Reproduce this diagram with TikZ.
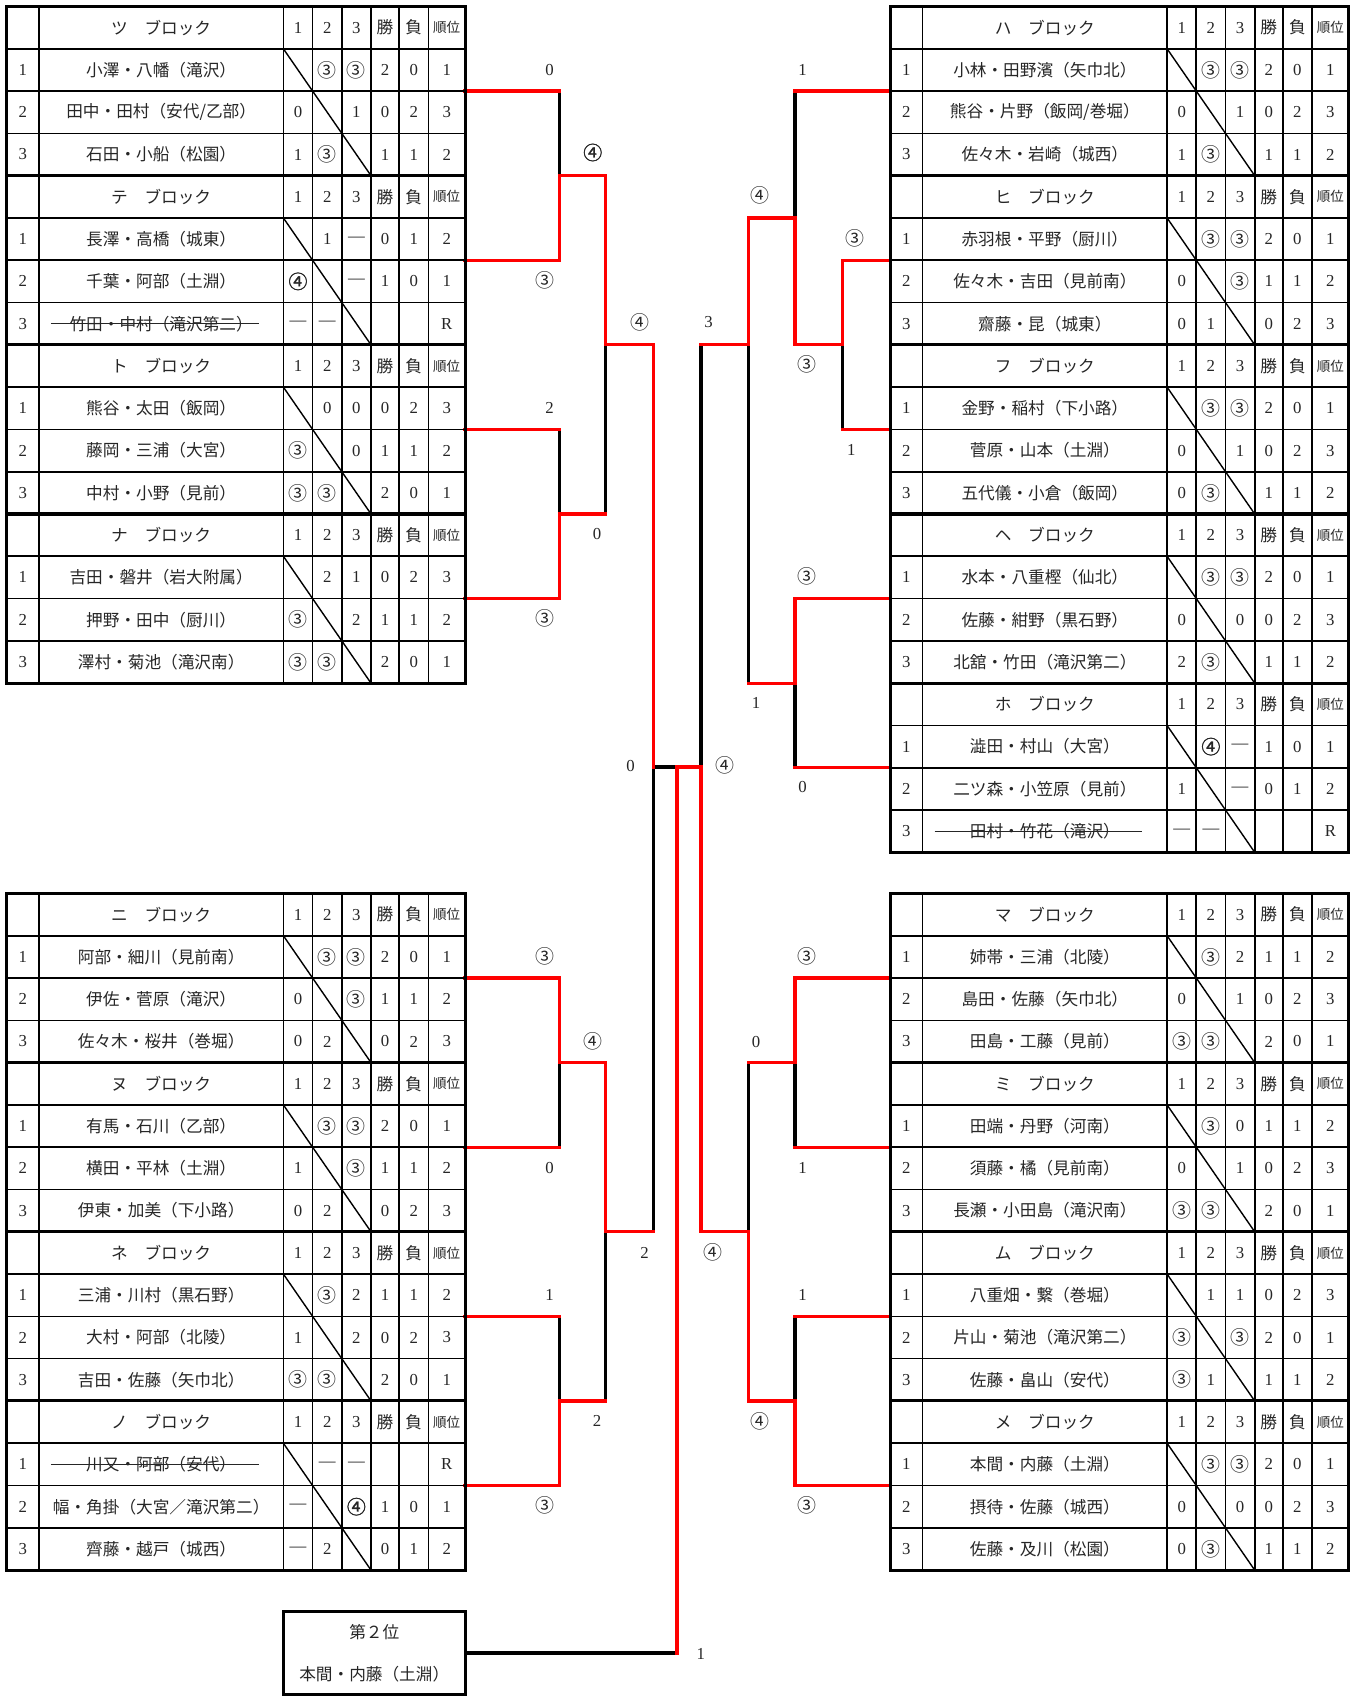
\documentclass[tikz,border=0pt]{standalone}
\usepackage{fontspec}
\setmainfont{Liberation Serif}
\newfontfamily\jp{Noto Sans CJK JP}
\newfontfamily\jpb[FakeBold=1.6]{Noto Sans CJK JP}
\usetikzlibrary{calc}
\newcount\nid
\newcommand\cThree{{\jp\fontsize{17.5}{18}\selectfont ③}}
\newcommand\cFour{{\jp\fontsize{17.5}{18}\selectfont ④}}
\newcommand\cFourB{{\jpb\fontsize{17.5}{18}\selectfont ④}}
\newcommand\cDash{—}
\newcommand\setcols[1]{%
 \pgfmathsetmacro\XA{#1}\pgfmathsetmacro\XB{#1+30}\pgfmathsetmacro\XC{#1+256}%
 \pgfmathsetmacro\XD{#1+283}\pgfmathsetmacro\XE{#1+310}\pgfmathsetmacro\XF{#1+337}%
 \pgfmathsetmacro\XG{#1+363}\pgfmathsetmacro\XH{#1+390}\pgfmathsetmacro\XI{#1+424}%
 \pgfmathsetmacro\KA{#1+15}\pgfmathsetmacro\KB{#1+143}\pgfmathsetmacro\KC{#1+269.5}%
 \pgfmathsetmacro\KD{#1+296.5}\pgfmathsetmacro\KE{#1+323.5}\pgfmathsetmacro\KF{#1+350}%
 \pgfmathsetmacro\KG{#1+376.5}\pgfmathsetmacro\KH{#1+407}}
\newcommand\prow[9]{%
 \global\advance\nid by 1
 \pgfmathsetmacro\myyt{\YT+#1*39.1}%
 \pgfmathsetmacro\myyc{\myyt+19.55}%
 \node[cell] (c\the\nid-0) at (\KA,\myyc) {#2};
 \node[jcell] (c\the\nid-n) at (\KB,\myyc) {#3};
 \node[cell] (c\the\nid-1) at (\KC,\myyc) {#4};
 \node[cell] (c\the\nid-2) at (\KD,\myyc) {#5};
 \node[cell] (c\the\nid-3) at (\KE,\myyc) {#6};
 \node[cell] (c\the\nid-w) at (\KF,\myyc) {#7};
 \node[cell] (c\the\nid-l) at (\KG,\myyc) {#8};
 \node[cell] (c\the\nid-r) at (\KH,\myyc) {#9};
 \pgfmathsetmacro\mydx{\XC+27*(#2-1)}%
 \draw[diag] (\mydx,\myyt) -- (\mydx+27,\myyt+39.1);
}
\newcommand\phead[2]{%
 \global\advance\nid by 1
 \pgfmathsetmacro\myyc{\YT+#1*39.1+19.55}%
 \node[jcell] (h\the\nid-n) at (\KB,\myyc) {#2　ブロック};
 \node[cell] (h\the\nid-1) at (\KC,\myyc) {1};
 \node[cell] (h\the\nid-2) at (\KD,\myyc) {2};
 \node[cell] (h\the\nid-3) at (\KE,\myyc) {3};
 \node[jcell] (h\the\nid-w) at (\KF,\myyc) {勝};
 \node[jcell] (h\the\nid-l) at (\KG,\myyc) {負};
 \node[jsmall] (h\the\nid-r) at (\KH,\myyc) {順位};
}
\newcommand\grid[2]{%
 \pgfmathsetmacro\YE{\YT+#1*39.1}%
 \pgfmathtruncatemacro\nlast{#1-1}%
 \foreach \k in {1,...,\nlast} \draw[tblthin] (\XA,\YT+\k*39.1) -- (\XI,\YT+\k*39.1);
 \foreach \x in {\XB,\XC,\XD,\XE,\XF,\XG,\XH} \draw[tblthin] (\x,\YT) -- (\x,\YE);
 \foreach \k in {#2} \draw[tbl] (\XA,\YT+\k*39.1) -- (\XI,\YT+\k*39.1);
 \draw[tbl] (\XA,\YT) rectangle (\XI,\YE);
}
\newcommand\strk[1]{%
 \pgfmathsetmacro\myys{\YT+#1*39.1+19.55}%
 \draw[strline] (\KB-102,\myys) -- (\KB+90,\myys);
}
\begin{document}
\begin{tikzpicture}[x=1pt,y=-1pt,
 cell/.style={inner sep=0pt, font=\fontsize{15.5}{17}\selectfont, text=black!85},
 jcell/.style={inner sep=0pt, font=\jp\fontsize{15.4}{18}\selectfont, text=black!85},
 jsmall/.style={inner sep=0pt, font=\jp\fontsize{12.5}{14}\selectfont, text=black!85},
 lab/.style={inner sep=0pt, font=\fontsize{15.5}{17}\selectfont, text=black!85},
 tbl/.style={line width=2.8pt, black},
 tblthin/.style={line width=1.5pt, black},
 diag/.style={line width=1.3pt, black},
 strline/.style={line width=1.2pt, black!85},
 lose/.style={line width=3pt, black, line cap=rect, line join=miter},
 win/.style={line width=3pt, red, line cap=rect, line join=miter},
 secbox/.style={draw, line width=2.8pt, minimum width=168pt, minimum height=76.5pt, inner sep=0pt}]
\useasboundingbox (0,0) rectangle (1256,1568);
\fill[white] (0,0) rectangle (1256,1568);

% attachment points and junctions
\coordinate (aTsu) at (430,84.2);
\coordinate (aTe) at (430,240.6);
\coordinate (aTo) at (430,397);
\coordinate (aNa) at (430,553.4);
\coordinate (aNi) at (430,904.2);
\coordinate (aNu) at (430,1060.6);
\coordinate (aNe) at (430,1217);
\coordinate (aNo) at (430,1373.4);
\coordinate (aHa) at (823,84.2);
\coordinate (aHi) at (823,240.6);
\coordinate (aFu) at (823,397);
\coordinate (aHe) at (823,553.4);
\coordinate (aHo) at (823,709.8);
\coordinate (aMa) at (823,904.2);
\coordinate (aMi) at (823,1060.6);
\coordinate (aMu) at (823,1217);
\coordinate (aMe) at (823,1373.4);
\coordinate (jTT) at (517,162.4);
\coordinate (jTN) at (517,475.2);
\coordinate (jL1) at (560,318.8);
\coordinate (jNN) at (517,982.4);
\coordinate (jNN2) at (517,1295.2);
\coordinate (jL2) at (560,1138.8);
\coordinate (cL) at (604,709);
\coordinate (jF) at (626,709);
\coordinate (cR) at (648,709);
\coordinate (jHF) at (779,318.8);
\coordinate (jHa) at (735,201.5);
\coordinate (jHH) at (735,631.6);
\coordinate (jR1) at (692,318.8);
\coordinate (jMM) at (735,982.4);
\coordinate (jMM2) at (735,1295.2);
\coordinate (jR2) at (692,1138.8);

\node[secbox] (second) at (346,1528.25) {};
\node[jcell] (secT) at (346,1509) {第２位};
\node[jcell] (secN) at (346,1548) {本間・内藤（土淵）};

% losing (black) branches
\draw[lose] (aTsu -| jTT) -- (jTT);
\draw[lose] (aTo -| jTN) -- (jTN);
\draw[lose] (jTN -| jL1) -- (jL1);
\draw[lose] (aNu -| jNN) -- (jNN);
\draw[lose] (aNe -| jNN2) -- (jNN2);
\draw[lose] (jNN2 -| jL2) -- (jL2);
\draw[lose] (jL2 -| cL) -- (cL) -- (jF);
\draw[lose] (jR1 -| cR) -- (cR);
\draw[lose] (jHa |- aHa) -- (jHa);
\draw[lose] (jHF |- aFu) -- (jHF);
\draw[lose] (jR1) -- (jR1 |- jHH);
\draw[lose] (jHH) -- (jHH |- aHo);
\draw[lose] (jMM) -- (jMM |- aMi);
\draw[lose] (jMM2 |- aMu) -- (jMM2);
\draw[lose] (jR2 |- jMM) -- (jR2);
\draw[lose] (second.east) -- (second.east -| jF);

% winning (red) branches
\draw[win] (aTsu) -- (aTsu -| jTT);
\draw[win] (aTe) -| (jTT) -- (jTT -| jL1) -- (jL1) -- (jL1 -| cL) -- (cL);
\draw[win] (aTo) -- (aTo -| jTN);
\draw[win] (aNa) -| (jTN) -- (jTN -| jL1);
\draw[win] (aNi) -| (jNN) -- (jNN -| jL2) -- (jL2) -- (jL2 -| cL);
\draw[win] (aNu) -- (aNu -| jNN);
\draw[win] (aNe) -- (aNe -| jNN2);
\draw[win] (aNo) -| (jNN2) -- (jNN2 -| jL2);
\draw[win] (aHa) -- (aHa -| jHa);
\draw[win] (aHi) -| (jHF) -- (jHF -| jHa) -- (jHa) -- (jHa -| jR1) -- (jR1) -- (jR1 -| cR);
\draw[win] (aFu) -- (aFu -| jHF);
\draw[win] (aHe) -| (jHH) -- (jHH -| jR1);
\draw[win] (aHo) -- (aHo -| jHH);
\draw[win] (aMa) -| (jMM) -- (jMM -| jR2);
\draw[win] (aMi) -- (aMi -| jMM);
\draw[win] (aMu) -- (aMu -| jMM2);
\draw[win] (aMe) -| (jMM2) -- (jMM2 -| jR2) -- (jR2) -- (jR2 -| cR) -- (cR) -- (jF) -- (jF |- second.east);

% score labels
\node[lab] (s1) at (508,65) {0};
\node[lab] (s2) at (504,259) {\cThree};
\node[lab] (s3) at (548,141) {\cFourB};
\node[lab] (s4) at (508,377) {2};
\node[lab] (s5) at (504,572) {\cThree};
\node[lab] (s6) at (552,494) {0};
\node[lab] (s7) at (592,298) {\cFour};
\node[lab] (s8) at (583,708) {0};
\node[lab] (s9) at (655,298) {3};
\node[lab] (s10) at (742,65) {1};
\node[lab] (s11) at (703,181) {\cFour};
\node[lab] (s12) at (790,220) {\cThree};
\node[lab] (s13) at (746,337) {\cThree};
\node[lab] (s14) at (787,416) {1};
\node[lab] (s15) at (746,533) {\cThree};
\node[lab] (s16) at (699,650) {1};
\node[lab] (s17) at (742,728) {0};
\node[lab] (s18) at (670,708) {\cFour};
\node[lab] (s19) at (504,884) {\cThree};
\node[lab] (s20) at (548,963) {\cFour};
\node[lab] (s21) at (508,1080) {0};
\node[lab] (s22) at (508,1197) {1};
\node[lab] (s23) at (552,1314) {2};
\node[lab] (s24) at (504,1392) {\cThree};
\node[lab] (s25) at (596,1158) {2};
\node[lab] (s26) at (746,884) {\cThree};
\node[lab] (s27) at (699,963) {0};
\node[lab] (s28) at (742,1080) {1};
\node[lab] (s29) at (659,1158) {\cFour};
\node[lab] (s30) at (742,1197) {1};
\node[lab] (s31) at (703,1314) {\cFour};
\node[lab] (s32) at (746,1392) {\cThree};
\node[lab] (s33) at (648,1529) {1};

% ---------- left top table
\setcols{6}\def\YT{6}
\grid{16}{4,8,12}
\phead{0}{ツ}
\prow{1}{1}{小澤・八幡（滝沢）}{}{\cThree}{\cThree}{2}{0}{1}
\prow{2}{2}{田中・田村（安代/乙部）}{0}{}{1}{0}{2}{3}
\prow{3}{3}{石田・小船（松園）}{1}{\cThree}{}{1}{1}{2}
\phead{4}{テ}
\prow{5}{1}{長澤・高橋（城東）}{}{1}{\cDash}{0}{1}{2}
\prow{6}{2}{千葉・阿部（土淵）}{\cFourB}{}{\cDash}{1}{0}{1}
\prow{7}{3}{竹田・中村（滝沢第二）}{\cDash}{\cDash}{}{}{}{R}
\strk{7}
\phead{8}{ト}
\prow{9}{1}{熊谷・太田（飯岡）}{}{0}{0}{0}{2}{3}
\prow{10}{2}{藤岡・三浦（大宮）}{\cThree}{}{0}{1}{1}{2}
\prow{11}{3}{中村・小野（見前）}{\cThree}{\cThree}{}{2}{0}{1}
\phead{12}{ナ}
\prow{13}{1}{吉田・磐井（岩大附属）}{}{2}{1}{0}{2}{3}
\prow{14}{2}{押野・田中（厨川）}{\cThree}{}{2}{1}{1}{2}
\prow{15}{3}{澤村・菊池（滝沢南）}{\cThree}{\cThree}{}{2}{0}{1}

% ---------- left bottom table
\def\YT{826}
\grid{16}{4,8,12}
\phead{0}{ニ}
\prow{1}{1}{阿部・細川（見前南）}{}{\cThree}{\cThree}{2}{0}{1}
\prow{2}{2}{伊佐・菅原（滝沢）}{0}{}{\cThree}{1}{1}{2}
\prow{3}{3}{佐々木・桜井（巻堀）}{0}{2}{}{0}{2}{3}
\phead{4}{ヌ}
\prow{5}{1}{有馬・石川（乙部）}{}{\cThree}{\cThree}{2}{0}{1}
\prow{6}{2}{横田・平林（土淵）}{1}{}{\cThree}{1}{1}{2}
\prow{7}{3}{伊東・加美（下小路）}{0}{2}{}{0}{2}{3}
\phead{8}{ネ}
\prow{9}{1}{三浦・川村（黒石野）}{}{\cThree}{2}{1}{1}{2}
\prow{10}{2}{大村・阿部（北陵）}{1}{}{2}{0}{2}{3}
\prow{11}{3}{吉田・佐藤（矢巾北）}{\cThree}{\cThree}{}{2}{0}{1}
\phead{12}{ノ}
\prow{13}{1}{川又・阿部（安代）}{}{\cDash}{\cDash}{}{}{R}
\strk{13}
\prow{14}{2}{幅・角掛（大宮／滝沢第二）}{\cDash}{}{\cFourB}{1}{0}{1}
\prow{15}{3}{齊藤・越戸（城西）}{\cDash}{2}{}{0}{1}{2}

% ---------- right top table
\setcols{823}\def\YT{6}
\grid{20}{4,8,12,16}
\phead{0}{ハ}
\prow{1}{1}{小林・田野濱（矢巾北）}{}{\cThree}{\cThree}{2}{0}{1}
\prow{2}{2}{熊谷・片野（飯岡/巻堀）}{0}{}{1}{0}{2}{3}
\prow{3}{3}{佐々木・岩崎（城西）}{1}{\cThree}{}{1}{1}{2}
\phead{4}{ヒ}
\prow{5}{1}{赤羽根・平野（厨川）}{}{\cThree}{\cThree}{2}{0}{1}
\prow{6}{2}{佐々木・吉田（見前南）}{0}{}{\cThree}{1}{1}{2}
\prow{7}{3}{齋藤・昆（城東）}{0}{1}{}{0}{2}{3}
\phead{8}{フ}
\prow{9}{1}{金野・稲村（下小路）}{}{\cThree}{\cThree}{2}{0}{1}
\prow{10}{2}{菅原・山本（土淵）}{0}{}{1}{0}{2}{3}
\prow{11}{3}{五代儀・小倉（飯岡）}{0}{\cThree}{}{1}{1}{2}
\phead{12}{ヘ}
\prow{13}{1}{水本・八重樫（仙北）}{}{\cThree}{\cThree}{2}{0}{1}
\prow{14}{2}{佐藤・紺野（黒石野）}{0}{}{0}{0}{2}{3}
\prow{15}{3}{北舘・竹田（滝沢第二）}{2}{\cThree}{}{1}{1}{2}
\phead{16}{ホ}
\prow{17}{1}{澁田・村山（大宮）}{}{\cFourB}{\cDash}{1}{0}{1}
\prow{18}{2}{二ツ森・小笠原（見前）}{1}{}{\cDash}{0}{1}{2}
\prow{19}{3}{田村・竹花（滝沢）}{\cDash}{\cDash}{}{}{}{R}
\strk{19}

% ---------- right bottom table
\def\YT{826}
\grid{16}{4,8,12}
\phead{0}{マ}
\prow{1}{1}{姉帯・三浦（北陵）}{}{\cThree}{2}{1}{1}{2}
\prow{2}{2}{島田・佐藤（矢巾北）}{0}{}{1}{0}{2}{3}
\prow{3}{3}{田島・工藤（見前）}{\cThree}{\cThree}{}{2}{0}{1}
\phead{4}{ミ}
\prow{5}{1}{田端・丹野（河南）}{}{\cThree}{0}{1}{1}{2}
\prow{6}{2}{須藤・橘（見前南）}{0}{}{1}{0}{2}{3}
\prow{7}{3}{長瀬・小田島（滝沢南）}{\cThree}{\cThree}{}{2}{0}{1}
\phead{8}{ム}
\prow{9}{1}{八重畑・繋（巻堀）}{}{1}{1}{0}{2}{3}
\prow{10}{2}{片山・菊池（滝沢第二）}{\cThree}{}{\cThree}{2}{0}{1}
\prow{11}{3}{佐藤・畠山（安代）}{\cThree}{1}{}{1}{1}{2}
\phead{12}{メ}
\prow{13}{1}{本間・内藤（土淵）}{}{\cThree}{\cThree}{2}{0}{1}
\prow{14}{2}{摂待・佐藤（城西）}{0}{}{0}{0}{2}{3}
\prow{15}{3}{佐藤・及川（松園）}{0}{\cThree}{}{1}{1}{2}
\end{tikzpicture}
\end{document}
